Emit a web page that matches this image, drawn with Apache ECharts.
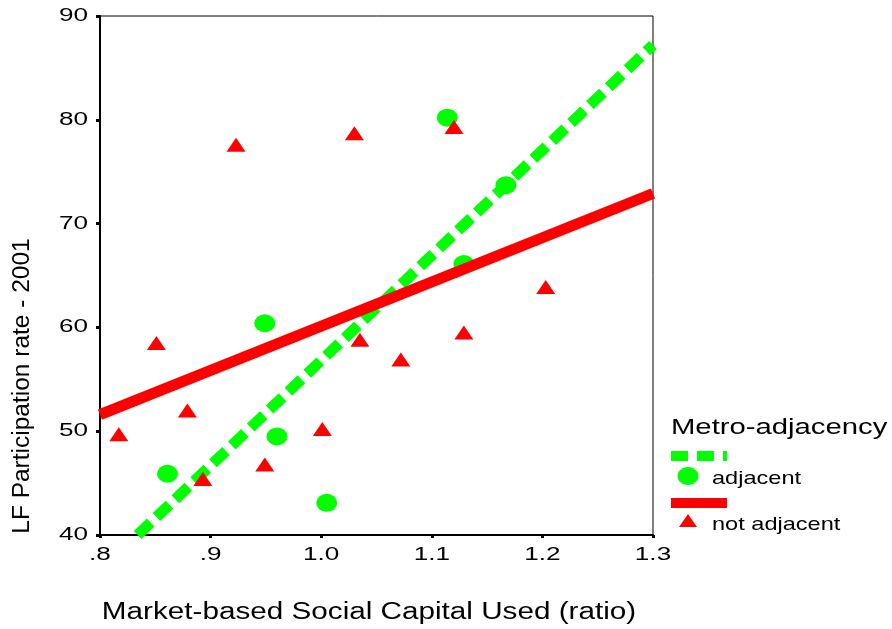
<!DOCTYPE html>
<html>
<head>
<meta charset="utf-8">
<script src="https://cdn.jsdelivr.net/npm/echarts@6/dist/echarts.min.js"></script>
<style>
  html, body { margin: 0; padding: 0; background: #fff; }
  #main { width: 892px; height: 629px; }
</style>
</head>
<body>
<div id="main"></div>
<script>
// points: [social capital ratio, LF participation %]
var adjacentPoints = [
  [0.861, 45.9], [0.949, 60.4], [0.960, 49.5], [1.005, 43.1],
  [1.114, 80.2], [1.129, 66.1], [1.167, 73.7]
];
var notAdjacentPoints = [
  [0.817, 49.7], [0.851, 58.5], [0.879, 52.0], [0.893, 45.4],
  [0.923, 77.6], [0.949, 46.8], [1.001, 50.2], [1.030, 78.7],
  [1.035, 58.8], [1.072, 56.9], [1.120, 79.3], [1.129, 59.5],
  [1.203, 63.9]
];
// fit line end points
var adjacentFit = [[0.834, 40.0], [1.3, 87.2]];
var notAdjacentFit = [[0.8, 51.6], [1.3, 72.9]];

var xTickLabels = ['.8', '.9', '1.0', '1.1', '1.2', '1.3'];
var yTickLabels = ['40', '50', '60', '70', '80', '90'];

var GREEN = '#00ff00';
var RED = '#ff0000';
var FONT = '"Liberation Sans", Arial, sans-serif';

var chart = echarts.init(document.getElementById('main'));

var option = {
  backgroundColor: '#fff',
  animation: false,
  textStyle: { fontFamily: FONT },
  grid: {
    left: 100, right: 239, top: 16, bottom: 94,
    show: true, borderColor: '#000', borderWidth: 1
  },
  xAxis: {
    type: 'value', min: 0.8, max: 1.3, interval: 0.1,
    splitLine: { show: false },
    axisLine: { onZero: false, lineStyle: { color: '#000', width: 2 } },
    axisTick: { length: 3, lineStyle: { color: '#000', width: 3 } },
    // labels are drawn below (stretched, like the original export)
    axisLabel: { show: false }
  },
  yAxis: {
    type: 'value', min: 40, max: 90, interval: 10,
    splitLine: { show: false },
    axisLine: { onZero: false, lineStyle: { color: '#000', width: 2 } },
    axisTick: { length: 4, lineStyle: { color: '#000', width: 3 } },
    axisLabel: { show: false }
  },
  series: [
    {
      name: 'adjacent', type: 'scatter', data: adjacentPoints,
      symbol: 'circle', symbolSize: [21, 18],
      itemStyle: { color: GREEN, opacity: 1 }, z: 2
    },
    {
      name: 'adjacent fit', type: 'line', data: adjacentFit,
      symbol: 'none', z: 3,
      lineStyle: { color: GREEN, width: 11, type: [18, 8], cap: 'butt' }
    },
    {
      name: 'not adjacent', type: 'scatter', data: notAdjacentPoints,
      symbol: 'triangle', symbolSize: [19, 14],
      itemStyle: { color: RED, opacity: 1 }, z: 4
    },
    {
      name: 'not adjacent fit', type: 'line', data: notAdjacentFit,
      symbol: 'none', z: 5,
      lineStyle: { color: RED, width: 11 }
    }
  ],
  graphic: [
    // axis titles
    {
      type: 'text', x: 369, y: 613, scaleX: 1.29,
      style: {
        text: 'Market-based Social Capital Used (ratio)', font: '23px ' + FONT,
        fill: '#000', textAlign: 'center', textVerticalAlign: 'middle'
      }
    },
    {
      type: 'text', x: 23, y: 386, rotation: Math.PI / 2, scaleX: 1.065,
      style: {
        text: 'LF Participation rate - 2001', font: '23px ' + FONT,
        fill: '#000', textAlign: 'center', textVerticalAlign: 'middle'
      }
    },
    // legend
    {
      type: 'text', x: 671, y: 428, scaleX: 1.33,
      style: {
        text: 'Metro-adjacency', font: '22px ' + FONT,
        fill: '#000', textAlign: 'left', textVerticalAlign: 'middle'
      }
    },
    {
      type: 'line', shape: { x1: 671, y1: 456, x2: 727, y2: 456 },
      style: { stroke: GREEN, lineWidth: 10, lineDash: [17, 9] }
    },
    {
      type: 'ellipse', shape: { cx: 688, cy: 476, rx: 10.5, ry: 9 },
      style: { fill: GREEN }
    },
    {
      type: 'text', x: 712, y: 479, scaleX: 1.24,
      style: {
        text: 'adjacent', font: '19px ' + FONT,
        fill: '#000', textAlign: 'left', textVerticalAlign: 'middle'
      }
    },
    {
      type: 'line', shape: { x1: 671, y1: 503, x2: 727, y2: 503 },
      style: { stroke: RED, lineWidth: 10 }
    },
    {
      type: 'polygon', shape: { points: [[679, 527], [697, 527], [688, 514]] },
      style: { fill: RED }
    },
    {
      type: 'text', x: 712, y: 525, scaleX: 1.24,
      style: {
        text: 'not adjacent', font: '19px ' + FONT,
        fill: '#000', textAlign: 'left', textVerticalAlign: 'middle'
      }
    }
  ]
};

chart.setOption(option);

// tick labels, placed with the chart's own axis scales
var tickTexts = [];
xTickLabels.forEach(function (t) {
  var p = chart.convertToPixel({ gridIndex: 0 }, [Number(t), 40]);
  tickTexts.push({
    type: 'text', x: p[0], y: 555, scaleX: 1.45,
    style: { text: t, font: '18px ' + FONT, fill: '#000',
             textAlign: 'center', textVerticalAlign: 'middle' }
  });
});
yTickLabels.forEach(function (t) {
  var p = chart.convertToPixel({ gridIndex: 0 }, [0.8, Number(t)]);
  tickTexts.push({
    type: 'text', x: 88, y: p[1], scaleX: 1.45,
    style: { text: t, font: '18px ' + FONT, fill: '#000',
             textAlign: 'right', textVerticalAlign: 'middle' }
  });
});
chart.setOption({ graphic: option.graphic.concat(tickTexts) });
</script>
</body>
</html>
